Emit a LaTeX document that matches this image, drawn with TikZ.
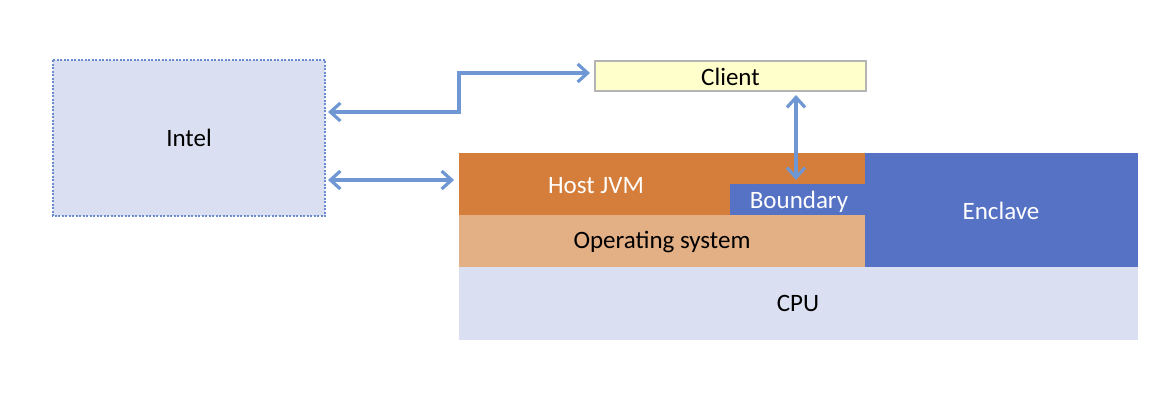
\documentclass[tikz,border=0pt]{standalone}
\usepackage{fontspec}
\setmainfont{Carlito}
\usetikzlibrary{arrows.meta}
\definecolor{paleblue}{HTML}{DAE0F2}
\definecolor{dotblue}{HTML}{6A8BD0}
\definecolor{clientfill}{HTML}{FFFFCC}
\definecolor{clientdraw}{HTML}{B4B4B4}
\definecolor{jvm}{HTML}{D57D3A}
\definecolor{os}{HTML}{E3AF85}
\definecolor{encl}{HTML}{5572C4}
\definecolor{arrowc}{HTML}{6E97D3}
\begin{document}
\begin{tikzpicture}[x=1pt,y=-1pt,
  every node/.style={font=\fontsize{25}{28}\selectfont},
  link/.style={draw=arrowc,line width=3.6pt,{Straight Barb[length=10pt,width=18pt,line width=3.2pt]}-{Straight Barb[length=10pt,width=18pt,line width=3.2pt]}}]
\useasboundingbox (0,0) rectangle (1170,410);
% Intel
\fill[paleblue] (53,60) rectangle (325,216);
\draw[dotblue,line width=2pt,dash pattern=on 2pt off 1.5pt] (53,60) rectangle (325,216);
\node (intel) at (189,138) {Intel};
\coordinate (intelR1) at (328,112);
\coordinate (intelR2) at (328,180);
% Client
\fill[clientfill] (595,61) rectangle (866,91);
\draw[clientdraw,line width=1.8pt] (595,61) rectangle (866,91);
\node (client) at (730.5,77) {Client};
\coordinate (clientL) at (590,73);
\coordinate (clientB) at (796,95);
% stack
\fill[paleblue] (459,267) rectangle (1138,340);
\node (cpu) at (798,303) {CPU};
\fill[os] (459,215) rectangle (865,267);
\node (os) at (662,242) {Operating system};
\fill[jvm] (459,153) rectangle (865,215);
\node[text=white] (jvm) at (596,186) {Host JVM};
\coordinate (jvmL) at (454,180);
\fill[encl] (730,184) rectangle (865,215);
\node[text=white] (boundary) at (799,202) {Boundary};
\coordinate (boundT) at (796,180);
\fill[encl] (865,153) rectangle (1138,267);
\node[text=white] (enclave) at (1001,211) {Enclave};
% arrows
\draw[link] (intelR1) -- (459,112) -- (459,73) -- (clientL);
\draw[link] (intelR2) -- (jvmL);
\draw[link] (clientB) -- (boundT);
\end{tikzpicture}
\end{document}
